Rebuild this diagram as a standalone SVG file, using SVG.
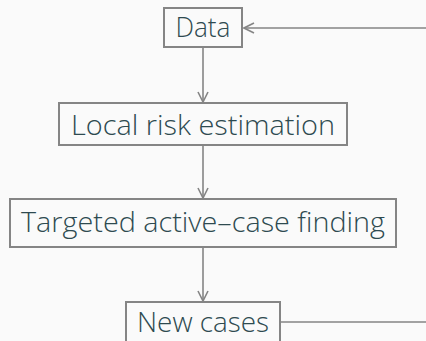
<svg xmlns="http://www.w3.org/2000/svg" width="426" height="341" viewBox="0 0 426 341">
<style>
.box{fill:#fafafa;stroke:#858585;stroke-width:2}
.lbl{font-family:"Open Sans","Noto Sans",sans-serif;font-weight:300;font-size:28px;fill:#2e4a50;text-anchor:middle}
.edge{fill:none;stroke:#858585;stroke-width:1.6}
</style>
<defs>
<marker id="ah" viewBox="0 0 12 12" refX="11" refY="6" markerWidth="12" markerHeight="12" markerUnits="userSpaceOnUse" orient="auto">
<path d="M1,1 L11,6 L1,11" fill="none" stroke="#858585" stroke-width="1.6"/>
</marker>
</defs>
<rect width="426" height="341" fill="#fafafa"/>
<g id="connectors">
<line class="edge" x1="203" y1="48" x2="203" y2="102" marker-end="url(#ah)"/>
<line class="edge" x1="203" y1="146" x2="203" y2="198" marker-end="url(#ah)"/>
<line class="edge" x1="203" y1="248" x2="203" y2="301" marker-end="url(#ah)"/>
<polyline class="edge" points="281,322 426,322"/>
<line class="edge" x1="426" y1="28" x2="244" y2="28" marker-end="url(#ah)"/>
</g>
<g id="data">
<rect class="box" x="164" y="8" width="78" height="39"/>
<text class="lbl" x="203" y="37" textLength="55" lengthAdjust="spacingAndGlyphs">Data</text>
</g>
<g id="local">
<rect class="box" x="59" y="103" width="288" height="42"/>
<text class="lbl" x="203" y="135" textLength="264" lengthAdjust="spacingAndGlyphs">Local risk estimation</text>
</g>
<g id="targeted">
<rect class="box" x="10" y="199" width="386" height="48"/>
<text class="lbl" x="203" y="232" textLength="364" lengthAdjust="spacingAndGlyphs">Targeted active–case finding</text>
</g>
<g id="newcases">
<rect class="box" x="126" y="302" width="154" height="48"/>
<text class="lbl" x="203" y="332" textLength="132" lengthAdjust="spacingAndGlyphs">New cases</text>
</g>
</svg>
